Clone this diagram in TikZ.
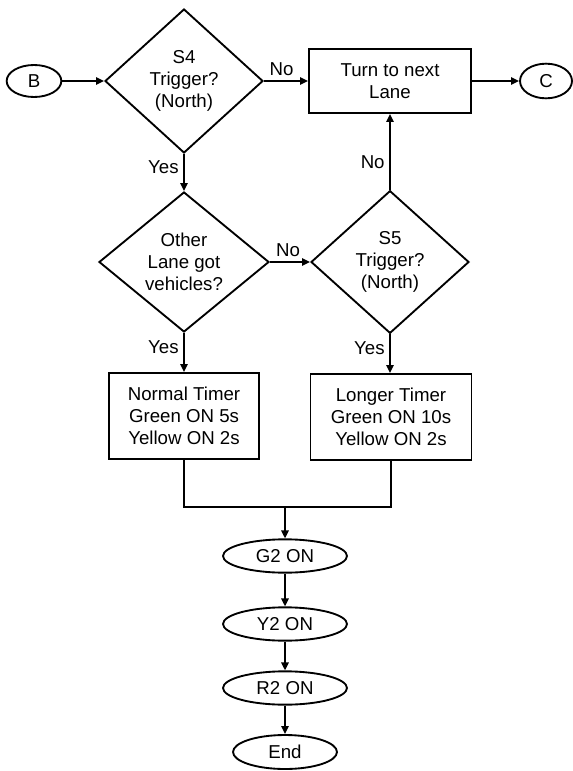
\documentclass[tikz,border=0pt]{standalone}
\usepackage{fontspec}
\setmainfont{Liberation Sans}
\usetikzlibrary{shapes.geometric,arrows.meta}
\tikzset{
  terminal/.style={draw, ellipse, inner sep=0pt, minimum width=93pt, minimum height=25pt},
  decision/.style={draw, diamond, aspect=1.15, inner sep=0pt, align=center,
    minimum width=118.5pt, minimum height=108pt},
  process/.style={draw, rectangle, inner sep=2pt, align=center,
    minimum width=113pt, minimum height=64.5pt},
  every node/.style={font=\fontsize{14}{16.5}\selectfont}
}
\begin{document}
\begin{tikzpicture}[x=0.75pt, y=-0.75pt, line width=1.4pt,
    >={Triangle[length=6pt,width=5.5pt]}]
    \useasboundingbox (0,0) rectangle (573,771);
    % top row
    \node [terminal, minimum width=41pt, minimum height=24pt] (b) at (34,81) {B};
    \node [decision] (s4) at (184,81) {S4\\Trigger?\\(North)};
    \node [process, minimum width=121.5pt, minimum height=48pt] (turn) at (390,81) {Turn to next\\Lane};
    \node [terminal, minimum width=39pt, minimum height=26pt] (c) at (546,81) {C};
    % second row
    \node [decision, minimum width=127.5pt, minimum height=105pt] (other) at (184,262) {Other\\Lane got\\vehicles?};
    \node [decision, minimum height=107pt] (s5) at (390,262) {S5\\Trigger?\\(North)};
    % timers
    \node [process, minimum width=112.5pt] (normal) at (184,416) {Normal Timer\\Green ON 5s\\Yellow ON 2s};
    \node [process, minimum width=120.75pt] (longer) at (391,417) {Longer Timer\\Green ON 10s\\Yellow ON 2s};
    \coordinate (merge) at (285,507);
    % lights
    \node [terminal] (g2) at (285,556) {G2 ON};
    \node [terminal] (y2) at (285,624) {Y2 ON};
    \node [terminal] (r2) at (285,688) {R2 ON};
    \node [terminal, minimum width=78pt, minimum height=25.5pt] (stop) at (285,752) {End};

    \draw [->] (b) -- (s4);
    \draw [->] (s4) -- node [above, pos=0.4] {No} (turn);
    \draw [->] (turn) -- (c);
    \draw [->] (s4) -- node [left, pos=0.35] {Yes} (other);
    \draw [->] (other) -- node [above, pos=0.45] {No} (s5);
    \draw [->] (s5) -- node [left, pos=0.37] {No} (turn);
    \draw [->] (other) -- node [left, pos=0.37] {Yes} (normal);
    \draw [->] (s5) -- node [left, pos=0.37] {Yes} (s5 |- longer.north);
    \draw (normal) |- (merge);
    \draw (longer) |- (merge);
    \draw [->] (merge) -- (g2);
    \draw [->] (g2) -- (y2);
    \draw [->] (y2) -- (r2);
    \draw [->] (r2) -- (stop);
\end{tikzpicture}
\end{document}
